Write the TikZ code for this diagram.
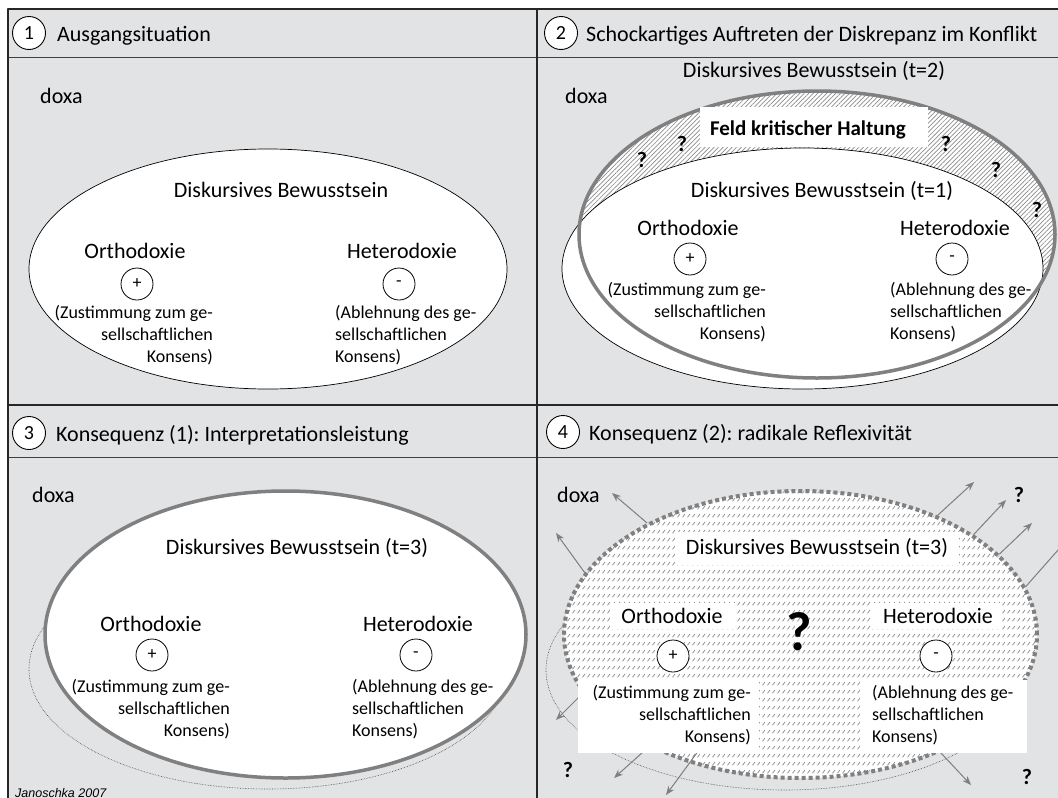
\documentclass[tikz,border=0pt]{standalone}
\usepackage{fontspec}
\setmainfont{Carlito}
\newfontfamily\creditfont{Liberation Sans}
\usetikzlibrary{shapes.geometric,arrows.meta,patterns,patterns.meta,positioning}
\definecolor{panelgray}{RGB}{226,227,229}
\definecolor{rimgray}{RGB}{128,128,128}
\definecolor{hatchgray}{RGB}{140,140,140}
\tikzdeclarepattern{
  name=dashrows,
  type=uncolored,
  bounding box={(0pt,0pt) and (4.5pt,8pt)},
  tile size={(4.5pt,8pt)},
  code={\draw[line width=0.8pt] (0.6pt,0.8pt) -- (3.2pt,4.4pt);}
}
\newcommand{\zustext}{\strut(Zustimmung zum ge-\\sellschaftlichen\\Konsens)}
\newcommand{\abltext}{\strut(Ablehnung des ge-\\sellschaftlichen\\Konsens)}
\frenchspacing

\begin{document}
\begin{tikzpicture}[x=1pt, y=-1pt, line join=round, >={Stealth[length=9pt,width=7pt]},
    every node/.style={inner sep=0pt},
    lbl/.style={font=\fontsize{22}{26}\selectfont},
    note/.style={font=\fontsize{18}{22}\selectfont},
    numc/.style={circle, draw, line width=0.9pt, fill=white, minimum size=33pt, font=\fontsize{20}{20}\selectfont},
    signc/.style={circle, draw, line width=0.8pt, fill=white, minimum size=32pt, font=\fontsize{18}{18}\selectfont},
    quest/.style={font=\fontsize{22}{22}\selectfont\bfseries},
    rim/.style={draw=rimgray, line width=3.5pt},
    thinell/.style={ellipse, draw, line width=0.7pt, fill=white, minimum width=478pt, minimum height=240pt},
    oldell/.style={ellipse, draw=black!70, line width=0.6pt, densely dotted, minimum width=478pt, minimum height=240pt},
    whitebox/.style={fill=white},
    outarrow/.style={->, draw=rimgray, fill=rimgray, line width=1pt}]
  \useasboundingbox (0,0) rectangle (1058,798);
  \clip (0,0) rectangle (1058,798);
  % frame and panels
  \fill[panelgray] (8,9) rectangle (1070,810);
  \draw[line width=0.8pt, black!75] (8,57) -- (1070,57) (8,457) -- (1070,457);
  \draw[line width=2pt, black!85] (8,810) |- (1070,9);
  \draw[line width=2pt, black!85] (537,9) -- (537,810) (8,405) -- (1070,405);

  % 1
  \node[numc] (num1) at (29,33) {1};
  \node[lbl, anchor=base west] (head1) at (57,41) {Ausgangsituation};
  \node[lbl, anchor=base west] (doxa1) at (40,103) {doxa};
  \node[thinell] (ell1) at (268,269) {};
  \node[lbl, anchor=base] (db1) at (281,197) {Diskursives Bewusstsein};
  \node[lbl, anchor=base] (ortho1) at (135,258) {Orthodoxie};
  \node[lbl, anchor=base] (hetero1) at (402,258) {Heterodoxie};
  \node[signc] (plus1) at (137,284) {+};
  \node[signc] (minus1) at (399,284) {-};
  \node[note, align=right, anchor=north east] (zust1) at (213,303) {\zustext};
  \node[note, align=left, anchor=north west] (abl1) at (335,303) {\abltext};

  % 2
  \node[numc] (num2) at (561,33) {2};
  \node[lbl, anchor=base west] (head2) at (586,41) {Schockartiges Auftreten der Diskrepanz im Konflikt};
  \node[lbl, anchor=base] (db2) at (814,77) {Diskursives Bewusstsein (t=2)};
  \node[lbl, anchor=base west] (doxa2) at (565,103) {doxa};
  \node[ellipse, preaction={fill=white}, pattern={Lines[angle=45,distance=3.2pt,line width=0.7pt]}, pattern color=hatchgray,
        minimum width=476pt, minimum height=287pt] (field2) at (817,234.5) {};
  \node[thinell, minimum width=481pt, minimum height=241pt] (ell2) at (802.5,268.5) {};
  \node[ellipse, rim, minimum width=476pt, minimum height=287pt] (rim2) at (field2.center) {};
  \node[whitebox, minimum width=228pt, minimum height=40pt] (box2) at (814,127) {};
  \node[anchor=base, font=\fontsize{21}{21}\selectfont\bfseries] (feld2) at (808,135) {Feld kritischer Haltung};
  \foreach \x/\y [count=\i] in {642/160, 682/144, 946/144, 996/170, 1037/210}
    \node[quest] (q2\i) at (\x,\y) {?};
  \node[lbl, anchor=base] (db2b) at (822,197) {Diskursives Bewusstsein (t=1)};
  \node[lbl, anchor=base] (ortho2) at (688,235) {Orthodoxie};
  \node[lbl, anchor=base] (hetero2) at (955,235) {Heterodoxie};
  \node[signc] (plus2) at (690,259) {+};
  \node[signc] (minus2) at (952,259) {-};
  \node[note, align=right, anchor=north east] (zust2) at (766,280) {\zustext};
  \node[note, align=left, anchor=north west] (abl2) at (890,280) {\abltext};

  % 3
  \node[numc] (num3) at (29,433) {3};
  \node[lbl, anchor=base west] (head3) at (56,441) {Konsequenz (1): Interpretationsleistung};
  \node[lbl, anchor=base west] (doxa3) at (32,502) {doxa};
  \node[oldell] (old3) at (268,669) {};
  \node[ellipse, rim, fill=white, minimum width=481pt, minimum height=287pt] (ell3) at (285.5,634.5) {};
  \node[lbl, anchor=base] (db3) at (297,554) {Diskursives Bewusstsein (t=3)};
  \node[lbl, anchor=base] (ortho3) at (151,631) {Orthodoxie};
  \node[lbl, anchor=base] (hetero3) at (418,631) {Heterodoxie};
  \node[signc] (plus3) at (152,655) {+};
  \node[signc] (minus3) at (416,655) {-};
  \node[note, align=right, anchor=north east] (zust3) at (230,677) {\zustext};
  \node[note, align=left, anchor=north west] (abl3) at (352,677) {\abltext};
  \node[anchor=base west, font=\creditfont\itshape\fontsize{12.5}{13}\selectfont] (credit) at (15,797) {Janoschka 2007};

  % 4
  \node[numc] (num4) at (563,432) {4};
  \node[lbl, anchor=base west] (head4) at (589,440) {Konsequenz (2): radikale Reflexivität};
  \node[lbl, anchor=base west] (doxa4) at (557,502) {doxa};
  \node[oldell] (old4) at (785,670) {};
  \node[ellipse, preaction={fill=white}, pattern=dashrows, pattern color=hatchgray,
        minimum width=473pt, minimum height=287pt] (field4) at (800.5,634.5) {};
  \node[ellipse, draw=rimgray, line width=4pt, dash pattern=on 4pt off 3pt,
        minimum width=473pt, minimum height=287pt] (rim4) at (field4.center) {};
  \foreach \a/\tx/\ty [count=\i] in {144/612/493, 164/556/533, 41/974/482, 30/1006/500, 22/1032/523, 12/1066/541}{
    \coordinate (tip\i) at (\tx,\ty);
    \draw[outarrow] (rim4.\a) -- (tip\i);
  }
  \foreach \sx/\sy/\tx/\ty [count=\i from 7] in {590/686/556/720, 662/735/614/778, 710/735/666/795, 925/736/971/785}{
    \coordinate (base\i) at (\sx,\sy);
    \coordinate (tip\i) at (\tx,\ty);
    \draw[outarrow] (base\i) -- (tip\i);
  }
  \node[whitebox, minimum width=283pt, minimum height=33pt] (box4a) at (817.5,548.5) {};
  \node[whitebox, minimum width=125pt, minimum height=26pt] (box4b) at (672.5,616) {};
  \node[whitebox, minimum width=130pt, minimum height=26pt] (box4c) at (937,616) {};
  \node[whitebox, minimum width=181pt, minimum height=73pt] (box4d) at (668.5,716.5) {};
  \node[whitebox, minimum width=166pt, minimum height=73pt] (box4e) at (944,716.5) {};
  \node[lbl, anchor=base] (db4) at (817,554) {Diskursives Bewusstsein (t=3)};
  \node[lbl, anchor=base] (ortho4) at (672,623) {Orthodoxie};
  \node[lbl, anchor=base] (hetero4) at (938,623) {Heterodoxie};
  \node[font=\fontsize{55}{55}\selectfont\bfseries] (bigq) at (799,632) {?};
  \node[signc] (plus4) at (673,656) {+};
  \node[signc] (minus4) at (936,656) {-};
  \node[note, align=right, anchor=north east] (zust4) at (751,683) {\zustext};
  \node[note, align=left, anchor=north west] (abl4) at (872,683) {\abltext};
  \foreach \x/\y [count=\i] in {1019/495, 568/770, 1027/777}
    \node[quest] (q4\i) at (\x,\y) {?};
\end{tikzpicture}
\end{document}
